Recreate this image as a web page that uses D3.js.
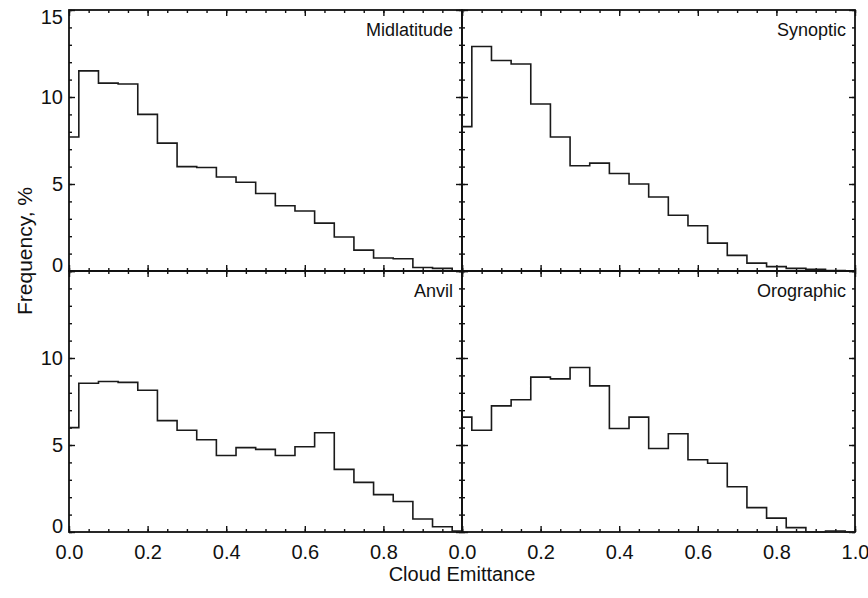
<!DOCTYPE html>
<html>
<head>
<meta charset="utf-8">
<script src="https://cdn.jsdelivr.net/npm/d3@7"></script>
<style>
  body { margin: 0; background: #fff; }
  svg text { font-family: "Liberation Sans", Arial, Helvetica, sans-serif; fill: #111; }
</style>
</head>
<body>
<div id="chart-area"></div>
<script>
// bin centres 0, 0.05, ..., 1.0 (step histogram)
const binCentres = d3.range(21).map(i => +(i * 0.05).toFixed(2));

const panelNames = ["Midlatitude", "Synoptic", "Anvil", "Orographic"];

const midlatitude = [7.7, 11.5, 10.8, 10.75, 9.0, 7.35, 6.0, 5.95, 5.4, 5.1, 4.45,
                     3.75, 3.45, 2.75, 1.95, 1.2, 0.75, 0.7, 0.2, 0.15, 0.0];
const synoptic    = [8.3, 12.9, 12.1, 11.9, 9.6, 7.7, 6.05, 6.2, 5.6, 5.0, 4.25,
                     3.2, 2.6, 1.6, 0.9, 0.45, 0.25, 0.15, 0.1, 0.03, 0.0];
const anvil       = [6.0, 8.55, 8.65, 8.6, 8.15, 6.4, 5.85, 5.3, 4.4, 4.85, 4.75,
                     4.4, 4.9, 5.7, 3.6, 2.85, 2.15, 1.75, 0.75, 0.3, 0.05];
const orographic  = [6.6, 5.85, 7.25, 7.6, 8.9, 8.8, 9.45, 8.4, 5.95, 6.6, 4.8,
                     5.65, 4.15, 3.95, 2.6, 1.4, 0.8, 0.25, 0.0, 0.06, 0.0];

const series = [midlatitude, synoptic, anvil, orographic];

const xMajor = [0, 0.2, 0.4, 0.6, 0.8, 1.0];
const xMinor = d3.range(21).map(i => +(i * 0.05).toFixed(2));
const yMajor = [0, 5, 10, 15];
const yMinor = d3.range(16);

const xTitle = "Cloud Emittance";
const yTitle = "Frequency, %";

const width = 868, height = 598;
const margin = { left: 69, top: 10 };
const panelW = 393, panelH = 261;

const svg = d3.select("#chart-area")
    .append("svg")
    .attr("width", width)
    .attr("height", height);

const x = d3.scaleLinear().domain([0, 1]).range([0, panelW]);
const y = d3.scaleLinear().domain([0, 15]).range([panelH, 0]);

const stepLine = d3.line()
    .x((d, i) => x(binCentres[i]))
    .y(d => y(d))
    .curve(d3.curveStep);

function tickGroup(g, axis) {
    g.call(axis);
    g.select(".domain").remove();
    g.selectAll(".tick line").attr("stroke", "#111").attr("stroke-width", 1.4);
    g.selectAll("text").attr("font-size", "20px").attr("fill", "#111");
    // drop empty labels
    g.selectAll("text").filter(function () { return !this.textContent; }).remove();
    return g;
}

series.forEach((vals, k) => {
    const col = k % 2, row = Math.floor(k / 2);
    const g = svg.append("g")
        .attr("transform", `translate(${margin.left + col * panelW}, ${margin.top + row * panelH})`);

    // minor ticks, all four sides, pointing in
    tickGroup(g.append("g").attr("transform", `translate(0, ${panelH})`),
        d3.axisBottom(x).tickValues(xMinor).tickSize(-3).tickFormat(""));
    tickGroup(g.append("g"),
        d3.axisTop(x).tickValues(xMinor).tickSize(-3).tickFormat(""));
    tickGroup(g.append("g"),
        d3.axisLeft(y).tickValues(yMinor).tickSize(-3).tickFormat(""));
    tickGroup(g.append("g").attr("transform", `translate(${panelW}, 0)`),
        d3.axisRight(y).tickValues(yMinor).tickSize(-3).tickFormat(""));

    // major ticks
    const showX = row === 1;
    const xLabels = col === 0 ? xMajor.filter(v => v < 1) : xMajor;
    tickGroup(g.append("g").attr("transform", `translate(0, ${panelH})`),
        d3.axisBottom(x).tickValues(xMajor).tickSize(-6).tickPadding(13)
          .tickFormat(d => showX && xLabels.includes(d) ? d3.format(".1f")(d) : ""));
    tickGroup(g.append("g"),
        d3.axisTop(x).tickValues(xMajor).tickSize(-6).tickFormat(""));

    const showY = col === 0;
    const yLabels = row === 0 ? yMajor : yMajor.filter(v => v < 15);
    const left = tickGroup(g.append("g"),
        d3.axisLeft(y).tickValues(yMajor).tickSize(-6).tickPadding(6)
          .tickFormat(d => showY && yLabels.includes(d) ? d : ""));
    // IDL keeps end labels inside the box
    left.selectAll("text").attr("y", d => d === 0 ? -6 : d === 15 ? 7 : 0);
    tickGroup(g.append("g").attr("transform", `translate(${panelW}, 0)`),
        d3.axisRight(y).tickValues(yMajor).tickSize(-6).tickFormat(""));

    // frame
    g.append("rect")
        .attr("width", panelW)
        .attr("height", panelH)
        .attr("fill", "none")
        .attr("stroke", "#111")
        .attr("stroke-width", 1.8);

    // histogram
    g.append("path")
        .datum(vals)
        .attr("d", stepLine)
        .attr("fill", "none")
        .attr("stroke", "#1a1a1a")
        .attr("stroke-width", 1.6);

    g.append("text")
        .attr("x", panelW - 9)
        .attr("y", 26)
        .attr("text-anchor", "end")
        .attr("font-size", "18px")
        .text(panelNames[k]);
});

svg.append("text")
    .attr("x", margin.left + panelW)
    .attr("y", 581)
    .attr("text-anchor", "middle")
    .attr("font-size", "20px")
    .text(xTitle);

svg.append("text")
    .attr("transform", "translate(32, 251) rotate(-90)")
    .attr("text-anchor", "middle")
    .attr("font-size", "21px")
    .text(yTitle);
</script>
</body>
</html>
